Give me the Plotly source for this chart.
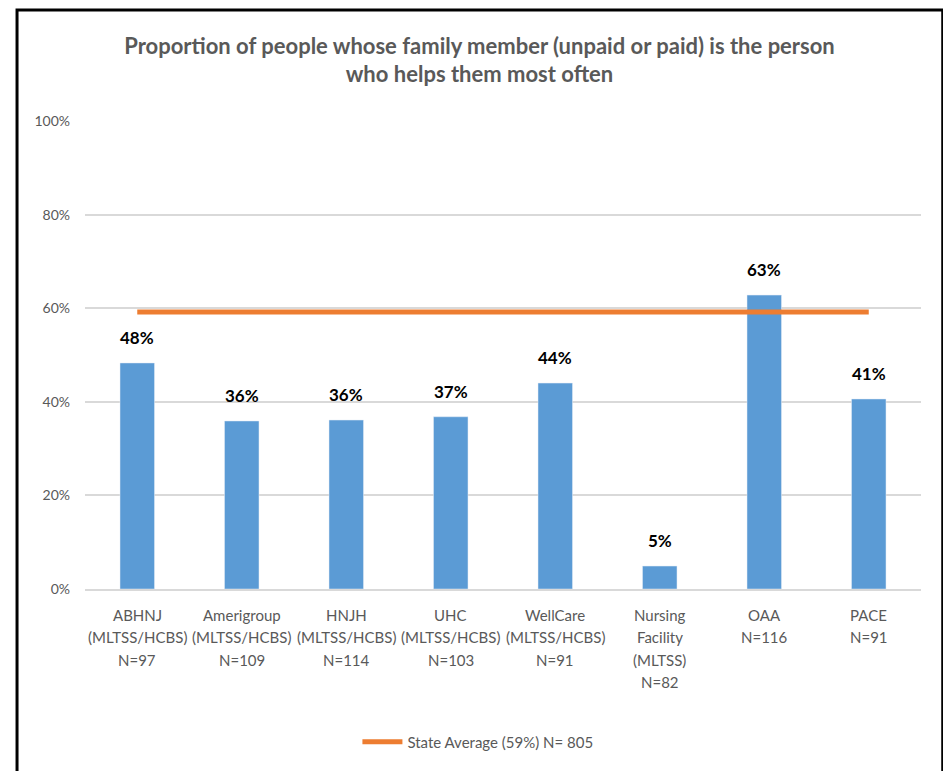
import plotly.graph_objects as go

cat_names = ["ABHNJ", "Amerigroup", "HNJH", "UHC", "WellCare", "Nursing Facility", "OAA", "PACE"]
cat_lines = [["ABHNJ", "(MLTSS/HCBS)", "N=97"], ["Amerigroup", "(MLTSS/HCBS)", "N=109"],
             ["HNJH", "(MLTSS/HCBS)", "N=114"], ["UHC", "(MLTSS/HCBS)", "N=103"],
             ["WellCare", "(MLTSS/HCBS)", "N=91"], ["Nursing", "Facility", "(MLTSS)", "N=82"],
             ["OAA", "N=116"], ["PACE", "N=91"]]
values = [48.3, 35.9, 36.1, 36.8, 44.0, 4.9, 62.8, 40.6]
labels = ["48%", "36%", "36%", "37%", "44%", "5%", "63%", "41%"]
state_avg = 59.2
legend_name = "State Average (59%) N= 805"
title = "Proportion of people whose family member (unpaid or paid) is the person<br>who helps them most often"

FONT = "Lato, Liberation Sans, sans-serif"
GRAY = "#595959"

fig = go.Figure()
fig.add_trace(go.Bar(x=cat_names, y=values, marker_color="#5B9BD5", width=0.33,
                     showlegend=False, hoverinfo="skip"))
fig.add_trace(go.Scatter(x=cat_names, y=[state_avg] * len(cat_names), mode="lines",
                         line=dict(color="#ED7D31", width=5), name=legend_name))

for c, v, t in zip(cat_names, values, labels):
    fig.add_annotation(x=c, y=v, text="<b>" + t + "</b>", showarrow=False,
                       yanchor="bottom", yshift=13,
                       font=dict(family=FONT, size=17, color="#000000"))

for c, lines in zip(cat_names, cat_lines):
    for i, ln in enumerate(lines):
        fig.add_annotation(x=c, y=0, text=ln, showarrow=False, yanchor="middle",
                           yshift=-(26 + 22.3 * i),
                           font=dict(family=FONT, size=15, color=GRAY))

fig.add_shape(type="rect", xref="paper", yref="paper", x0=-0.0813, x1=1.026,
              y0=-0.5, y1=1.237, line=dict(color="#000000", width=3), layer="above")

fig.update_layout(
    width=943, height=763,
    margin=dict(l=77, r=30, t=113, b=182),
    paper_bgcolor="white", plot_bgcolor="white",
    title=dict(text="<b>" + title + "</b>", x=0.5, xanchor="center", y=0.94, yanchor="middle",
               font=dict(family=FONT, size=22, color=GRAY)),
    font=dict(family=FONT, color=GRAY),
    yaxis=dict(range=[0, 100], dtick=20, ticksuffix="%", gridcolor="#D9D9D9", gridwidth=1.5,
               zeroline=False, tickfont=dict(size=14, color=GRAY), ticklabelstandoff=14),
    xaxis=dict(showline=True, linecolor="#D9D9D9", linewidth=2, showticklabels=False),
    legend=dict(orientation="h", x=0.47, xanchor="center", y=-0.327, yanchor="middle",
                font=dict(size=15, color=GRAY), itemwidth=40),
)

fig.write_html("out.html")
